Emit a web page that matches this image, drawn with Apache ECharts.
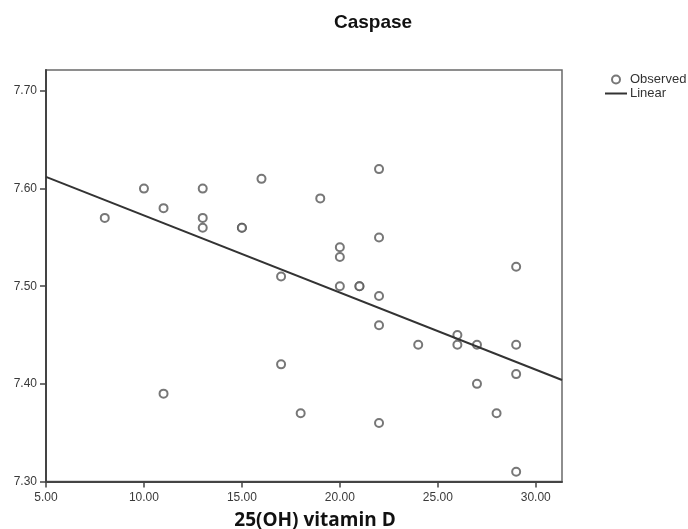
<!DOCTYPE html>
<html>
<head>
<meta charset="utf-8">
<script src="https://cdn.jsdelivr.net/npm/echarts@6/dist/echarts.min.js"></script>
<style>html,body{margin:0;padding:0;background:#fff}#c{width:688px;height:529px}</style>
</head>
<body>
<div id="c"></div>
<script>
// Observed points: 25(OH) vitamin D vs Caspase
var vitaminD = [8, 10, 11, 11, 13, 13, 13, 15, 15, 16, 17, 17, 18, 19, 20, 20, 20, 21, 21, 22, 22, 22, 22, 22, 24, 26, 26, 27, 27, 28, 29, 29, 29, 29];
var caspase  = [7.57, 7.60, 7.58, 7.39, 7.60, 7.57, 7.56, 7.56, 7.56, 7.61, 7.51, 7.42, 7.37, 7.59, 7.54, 7.53, 7.50, 7.50, 7.50, 7.62, 7.55, 7.49, 7.46, 7.36, 7.44, 7.45, 7.44, 7.44, 7.40, 7.37, 7.52, 7.44, 7.41, 7.31];
// Linear fit line endpoints
var fitX = [5, 31.34];
var fitY = [7.612, 7.404];
var xTicks = [5, 10, 15, 20, 25, 30];
var yTicks = [7.30, 7.40, 7.50, 7.60, 7.70];

var observed = vitaminD.map(function (v, i) { return [v, caspase[i]]; });
var linear = fitX.map(function (v, i) { return [v, fitY[i]]; });

var chart = echarts.init(document.getElementById('c'), null, {renderer: 'canvas'});
var axisColor = '#444';
var labelColor = '#3a3a3a';
chart.setOption({
  animation: false,
  backgroundColor: '#fff',
  graphic: [{
    type: 'text', x: 373, y: 23,
    style: {text: 'Caspase', fill: '#111', font: 'bold 19px "Liberation Sans", Arial, sans-serif', align: 'center', verticalAlign: 'middle'}
  }],
  grid: {left: 46, top: 70, right: 126, bottom: 47.5, outerBoundsMode: 'none', containLabel: false,
    show: true, borderColor: '#6a6a6a', borderWidth: 1.5, backgroundColor: 'transparent'},
  legend: {
    orient: 'vertical', left: 604, top: 73, padding: 0, itemGap: 1, itemWidth: 22, itemHeight: 8,
    selectedMode: false,
    textStyle: {fontSize: 13, color: '#333', fontFamily: '"Liberation Sans", Arial, sans-serif', padding: [0, 0, 0, -2]},
    data: [
      {name: 'Observed', icon: 'emptyCircle'},
      {name: 'Linear', itemStyle: {opacity: 0}}
    ]
  },
  xAxis: {
    type: 'value', min: 5, max: 31.34, interval: 5,
    name: '25(OH) vitamin D', nameLocation: 'middle', nameGap: 30,
    nameTextStyle: {fontSize: 19, fontWeight: 'bold', color: '#111', fontFamily: '"Open Sans", sans-serif', padding: [0, 0, 0, 22]},
    axisLine: {show: true, onZero: false, lineStyle: {color: axisColor, width: 2}},
    axisTick: {show: true, length: 6, lineStyle: {color: axisColor, width: 1.5}},
    axisLabel: {showMaxLabel: false, margin: 10, fontSize: 12, color: labelColor, fontFamily: '"Liberation Sans", Arial, sans-serif',
      formatter: function (v) { return v.toFixed(2); }},
    splitLine: {show: false}
  },
  yAxis: {
    type: 'value', min: 7.3, max: 7.7215, interval: 0.1,
    axisLine: {show: true, onZero: false, lineStyle: {color: axisColor, width: 2}},
    axisTick: {show: true, length: 6, lineStyle: {color: axisColor, width: 1.5}},
    axisLabel: {showMaxLabel: false, margin: 9, fontSize: 12, color: labelColor, fontFamily: '"Liberation Sans", Arial, sans-serif',
      formatter: function (v) { return v.toFixed(2); }},
    splitLine: {show: false}
  },
  series: [
    {
      name: 'Observed', type: 'scatter', data: observed,
      symbol: 'emptyCircle', symbolSize: 8,
      itemStyle: {color: '#555', borderWidth: 1.6}
    },
    {
      name: 'Linear', type: 'line', data: linear, symbol: 'none',
      itemStyle: {color: '#333'},
      lineStyle: {color: '#333', width: 2}
    }
  ]
});
</script>
</body>
</html>
